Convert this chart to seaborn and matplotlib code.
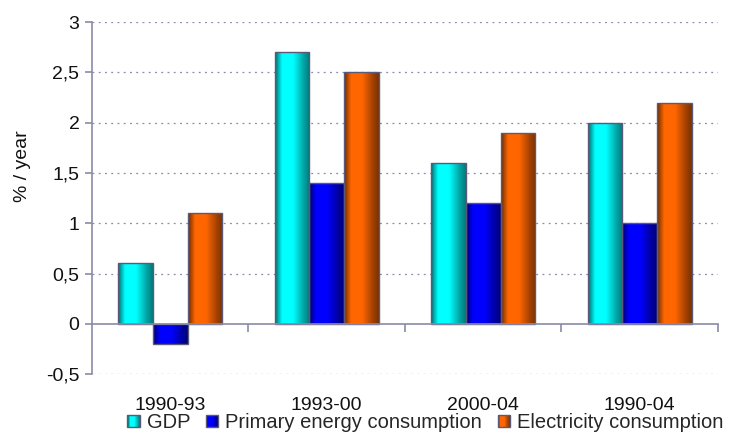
import numpy as np
import pandas as pd
import matplotlib
matplotlib.use("Agg")
import matplotlib.pyplot as plt
import seaborn as sns
from matplotlib.colors import to_rgb
from matplotlib.patches import Rectangle
from matplotlib.legend_handler import HandlerBase

periods = ["1990-93", "1993-00", "2000-04", "1990-04"]
series = ["GDP", "Primary energy consumption", "Electricity consumption"]
gdp = [0.6, 2.7, 1.6, 2.0]
primary = [-0.2, 1.4, 1.2, 1.0]
electricity = [1.1, 2.5, 1.9, 2.2]
yticks = [-0.5, 0, 0.5, 1, 1.5, 2, 2.5, 3]
ytick_labels = ["-0,5", "0", "0,5", "1", "1,5", "2", "2,5", "3"]
colors = ["#00FFFF", "#0000FF", "#FF6600"]

df = pd.DataFrame({
    "period": periods * 3,
    "series": [series[0]] * 4 + [series[1]] * 4 + [series[2]] * 4,
    "value": gdp + primary + electricity,
})

sns.set_theme(style="white")
plt.rcParams["font.family"] = ["Liberation Sans", "DejaVu Sans"]

FS = 14
fig = plt.figure(figsize=(7.33, 4.34), dpi=100)
ax = fig.add_axes([0.1255, 0.138, 0.854, 0.811])

sns.barplot(data=df, x="period", y="value", hue="series", order=periods,
            hue_order=series, palette=colors, saturation=1, width=0.667, gap=0,
            edgecolor="#5a5a78", linewidth=1.0, ax=ax, legend=False)

axis_col = "#8a8aa8"
ax.set_ylim(-0.5, 3)
ax.set_xlim(-0.5, 3.5)
ax.set_yticks(yticks)
ax.set_yticklabels(ytick_labels, fontsize=FS, color="#111111")
ax.set_ylabel("% / year", fontsize=FS, color="#111111")
ax.yaxis.set_label_coords(-0.098, 0.59)
ax.set_xlabel("")

# grid
for yv in yticks:
    if yv != 0:
        ax.axhline(yv, color="#8a8aaa", lw=0.9, ls=(0, (1.5, 3.5)), zorder=0.5)

for s in ["top", "right"]:
    ax.spines[s].set_visible(False)
ax.spines["left"].set_color(axis_col)
ax.spines["left"].set_linewidth(1.2)
ax.spines["bottom"].set_position(("data", 0))
ax.spines["bottom"].set_color(axis_col)
ax.spines["bottom"].set_linewidth(1.2)
ax.spines["bottom"].set_zorder(5)

ax.tick_params(axis="y", which="major", length=5, width=1.2, color=axis_col,
               direction="out", left=True, pad=4)
ax.set_xticks(range(len(periods)))
ax.set_xticklabels([])
ax.tick_params(axis="x", which="major", length=0)
ax.set_xticks([0.5, 1.5, 2.5, 3.5], minor=True)
ax.tick_params(axis="x", which="minor", length=6, width=1.2, color=axis_col,
               direction="out", bottom=True)

for i, p in enumerate(periods):
    ax.text(i, -0.09, p, transform=ax.get_xaxis_transform(), ha="center",
            va="center", fontsize=FS, color="#111111")

# cylinder-like shading clipped to each bar
tpos = np.array([0.0, 0.06, 0.2, 0.52, 0.82, 1.0])
bright = np.array([0.45, 0.6, 1.0, 1.0, 0.65, 0.48])
grad_t = np.linspace(0, 1, 64)
prof = np.interp(grad_t, tpos, bright)

def gradient_img(color):
    c = np.array(to_rgb(color))
    img = prof[:, None] * c[None, :]
    return np.clip(img[None, :, :], 0, 1)

for patch in list(ax.patches):
    x, y = patch.get_x(), patch.get_y()
    w, h = patch.get_width(), patch.get_height()
    fc = patch.get_facecolor()
    im = ax.imshow(gradient_img(fc[:3]), extent=(x, x + w, min(y, y + h), max(y, y + h)),
                   aspect="auto", interpolation="bilinear", zorder=patch.get_zorder() + 0.1)
    im.set_clip_path(patch)
    patch.set_facecolor("none")
    patch.set_zorder(patch.get_zorder() + 0.2)

ax.set_xlim(-0.5, 3.5)
ax.set_ylim(-0.5, 3)


class GradHandler(HandlerBase):
    def create_artists(self, legend, orig_handle, xdescent, ydescent, width,
                       height, fontsize, trans):
        color = orig_handle.get_facecolor()[:3]
        arts = []
        n = 12
        side = height * 0.95
        x0 = -xdescent + (width - side) / 2
        y0 = -ydescent + (height - side) / 2
        for k in range(n):
            t = (k + 0.5) / n
            b = np.interp(t, tpos, bright)
            r = Rectangle((x0 + side * k / n, y0), side / n + 0.05, side,
                          facecolor=np.clip(np.array(color) * b, 0, 1),
                          edgecolor="none", transform=trans)
            arts.append(r)
        arts.append(Rectangle((x0, y0), side, side, facecolor="none",
                              edgecolor="#5a5a78", lw=1.0, transform=trans))
        return arts

handles = [Rectangle((0, 0), 1, 1, facecolor=c) for c in colors]
fig.legend(handles, series, loc="center", bbox_to_anchor=(0.58, 0.026),
           ncol=3, frameon=False, fontsize=14.5, handlelength=0.7,
           handleheight=0.6, handletextpad=0.3, columnspacing=0.75,
           borderpad=0, handler_map={Rectangle: GradHandler()})

fig.savefig("out.png", dpi=100)
